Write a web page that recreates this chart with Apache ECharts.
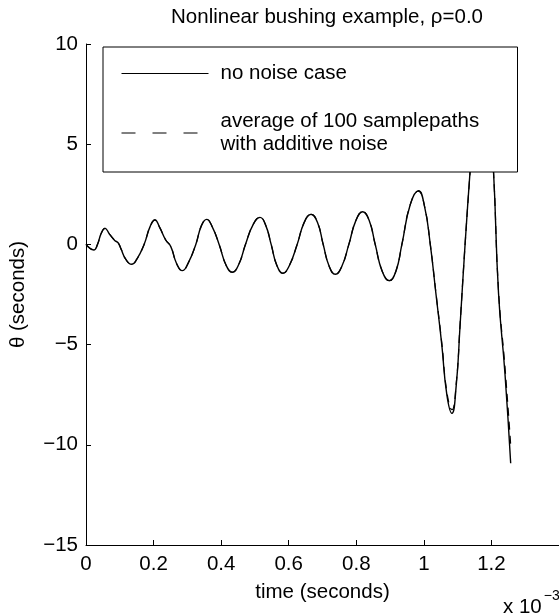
<!DOCTYPE html>
<html>
<head>
<meta charset="utf-8">
<script src="https://cdn.jsdelivr.net/npm/echarts@6/dist/echarts.min.js"></script>
<style>html,body{margin:0;padding:0;background:#fff}#c{width:559px;height:615px}</style>
</head>
<body>
<div id="c"></div>
<script>
// time in units of 1e-3 seconds
const times = [0, 0.012, 0.023, 0.034, 0.045, 0.056, 0.070, 0.085, 0.095, 0.103, 0.118, 0.135, 0.150, 0.172, 0.190, 0.204, 0.218, 0.236, 0.251, 0.268, 0.285, 0.302, 0.325, 0.342, 0.357, 0.373, 0.394, 0.415, 0.433, 0.452, 0.472, 0.495, 0.515, 0.532, 0.548, 0.565, 0.583, 0.602, 0.625, 0.646, 0.666, 0.685, 0.702, 0.720, 0.738, 0.757, 0.778, 0.799, 0.819, 0.838, 0.856, 0.877, 0.898, 0.917, 0.935, 0.960, 0.984, 1.002, 1.019, 1.036, 1.053, 1.068, 1.083, 1.096, 1.107, 1.122, 1.137, 1.155, 1.170, 1.190, 1.206, 1.221, 1.240, 1.257];
const noNoise = [0, -0.20, -0.28, 0.0, 0.55, 0.80, 0.50, 0.20, 0.08, -0.20, -0.75, -0.99, -0.75, 0.0, 0.90, 1.22, 0.85, 0.22, -0.11, -0.95, -1.31, -0.95, 0.0, 0.95, 1.25, 0.90, 0.0, -1.05, -1.39, -1.00, 0.0, 1.00, 1.35, 0.95, 0.0, -1.05, -1.44, -1.05, 0.0, 1.10, 1.50, 1.10, 0.0, -1.10, -1.49, -1.10, 0.0, 1.20, 1.63, 1.20, 0.0, -1.35, -1.81, -1.35, 0.0, 2.00, 2.68, 1.90, 0.0, -2.50, -5.00, -7.50, -8.43, -7.00, -4.10, 0.0, 3.70, 8.00, 9.20, 7.50, 3.70, -2.44, -6.43, -10.92];
const avgNoise = [0, -0.20, -0.28, 0.0, 0.55, 0.80, 0.50, 0.20, 0.08, -0.20, -0.75, -0.99, -0.75, 0.0, 0.90, 1.22, 0.85, 0.22, -0.11, -0.95, -1.31, -0.95, 0.0, 0.95, 1.25, 0.90, 0.0, -1.05, -1.39, -1.00, 0.0, 1.00, 1.35, 0.95, 0.0, -1.05, -1.44, -1.05, 0.0, 1.10, 1.50, 1.10, 0.0, -1.10, -1.49, -1.10, 0.0, 1.20, 1.63, 1.20, 0.0, -1.35, -1.81, -1.35, 0.0, 2.00, 2.66, 1.90, 0.0, -2.45, -4.90, -7.35, -8.25, -6.90, -4.05, 0.0, 3.65, 7.90, 9.10, 7.40, 3.65, -2.30, -6.10, -10.00];
const xTicks = [0, 0.2, 0.4, 0.6, 0.8, 1, 1.2, 1.4];
const yTicks = [-15, -10, -5, 0, 5, 10];
const seriesNames = ['no noise case', 'average of 100 samplepaths\nwith additive noise'];
const titleText = 'Nonlinear bushing example, \u03c1=0.0';

const font = 'Liberation Sans, Arial, Helvetica, sans-serif';
const fs = 20.5;
const pairs = (xs, ys) => xs.map((x, i) => [x, ys[i]]);
const fmtNum = v => (v < 0 ? '\u2212' + String(-v) : String(v));

const chart = echarts.init(document.getElementById('c'), null, {renderer: 'canvas'});
chart.setOption({
  animation: false,
  backgroundColor: '#fff',
  textStyle: {fontFamily: font},
  title: {
    text: titleText, left: 322, top: 2, textAlign: 'center',
    textStyle: {fontSize: fs, fontWeight: 'normal', color: '#000', fontFamily: font}
  },
  grid: {left: 85, right: 0, top: 44, bottom: 70},
  xAxis: {
    type: 'value', min: xTicks[0], max: xTicks[xTicks.length - 1], interval: 0.2,
    name: 'time (seconds)', nameLocation: 'middle', nameGap: 37,
    nameTextStyle: {fontSize: fs, color: '#000', fontFamily: font},
    axisLine: {show: true, onZero: false, lineStyle: {color: '#000', width: 1}},
    axisTick: {show: true, inside: true, length: 5, lineStyle: {color: '#000'}},
    axisLabel: {fontSize: fs, color: '#000', margin: 9, showMaxLabel: false, formatter: fmtNum, fontFamily: font},
    splitLine: {show: false}
  },
  yAxis: {
    type: 'value', min: yTicks[0], max: yTicks[yTicks.length - 1], interval: 5,
    name: '\u03b8 (seconds)', nameLocation: 'middle', nameGap: 57,
    nameTextStyle: {fontSize: fs, color: '#000', fontFamily: font},
    axisLine: {show: true, onZero: false, lineStyle: {color: '#000', width: 1}},
    axisTick: {show: true, inside: true, length: 5, lineStyle: {color: '#000'}},
    axisLabel: {fontSize: fs, color: '#000', margin: 8, formatter: fmtNum, fontFamily: font},
    splitLine: {show: false}
  },
  legend: {
    orient: 'vertical', left: 103, top: 47,
    padding: [15, 10, 16, 18],
    itemGap: 25, itemWidth: 87, itemHeight: 14,
    backgroundColor: '#fff', borderColor: '#000', borderWidth: 1,
    itemStyle: {color: 'rgba(0,0,0,0)', borderWidth: 0, opacity: 0},
    selectedMode: false,
    textStyle: {fontSize: fs, lineHeight: 23, color: '#000', fontFamily: font, padding: [0, 0, 0, 7], width: 287},
    data: [
      {name: seriesNames[0], lineStyle: {type: 'solid', width: 1, color: '#000'}},
      {name: seriesNames[1], lineStyle: {type: [14, 17], width: 1, color: '#000'}}
    ]
  },
  graphic: [{
    type: 'text', left: 503, top: 589,
    style: {
      text: '{a|x 10}{b|\u22123}',
      rich: {
        a: {fontSize: fs, fontFamily: font, fill: '#000', padding: [8, 0, 0, 0]},
        b: {fontSize: 14, fontFamily: font, fill: '#000', verticalAlign: 'top', padding: [0, 0, 6, 2]}
      }
    }
  }],
  series: [
    {
      name: seriesNames[0], type: 'line', data: pairs(times, noNoise),
      smooth: 0.5, symbol: 'none', showSymbol: false,
      lineStyle: {color: '#000', width: 1.4, type: 'solid'}, z: 3
    },
    {
      name: seriesNames[1], type: 'line', data: pairs(times, avgNoise),
      smooth: 0.5, symbol: 'none', showSymbol: false,
      lineStyle: {color: '#000', width: 1.2, type: [8, 6]}, z: 2
    }
  ]
});
</script>
</body>
</html>
